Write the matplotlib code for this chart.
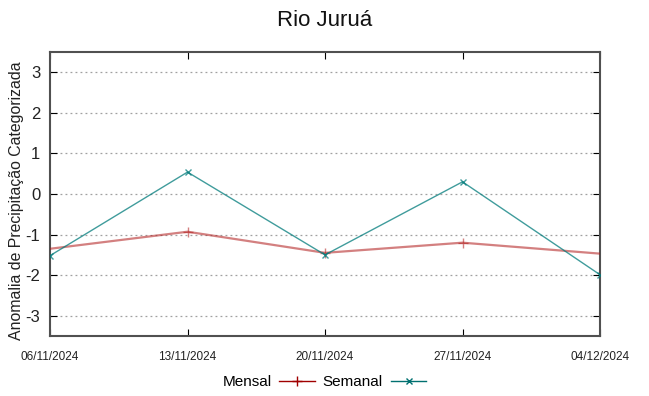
#!/usr/bin/env python3
"""Rio Juruá - anomalia de precipitação categorizada (mensal x semanal)."""

import datetime as dt
import matplotlib
matplotlib.use('Agg')
import matplotlib.pyplot as plt
from matplotlib.lines import Line2D

plt.rcParams['font.family'] = ['Liberation Sans', 'DejaVu Sans']
plt.rcParams['axes.unicode_minus'] = False

redcol  = '#b01818'
tealcol = '#007b7b'
gridcol = '#a0a0a0'
axiscol = '#505050'

# Mensal extends past the visible window on both sides (clipped)
mensal_dates = ['30/10/2024', '13/11/2024', '20/11/2024', '27/11/2024', '11/12/2024']
mensal_vals  = [-1.77, -0.93, -1.45, -1.20, -1.74]

semanal_dates = ['06/11/2024', '13/11/2024', '20/11/2024', '27/11/2024', '04/12/2024']
semanal_vals  = [-1.52, 0.54, -1.50, 0.30, -1.99]

tick_labels = ['06/11/2024', '13/11/2024', '20/11/2024', '27/11/2024', '04/12/2024']


def to_date(s):
    return dt.datetime.strptime(s, '%d/%m/%Y')


fig = plt.figure(figsize=(6.49, 3.96), dpi=100)
ax = fig.add_axes([50 / 649, 1 - 336 / 396, 550 / 649, 284 / 396])

ax.plot([to_date(d) for d in mensal_dates], mensal_vals, color=redcol, lw=1.6,
        alpha=0.55, marker='+', ms=7, mew=1.0, zorder=3)
ax.plot([to_date(d) for d in semanal_dates], semanal_vals, color=tealcol, lw=1.0,
        alpha=0.75, marker='x', ms=5, mew=1.0, zorder=4)

ticks = [to_date(d) for d in tick_labels]
ax.set_xlim(ticks[0], ticks[-1])
ax.set_xticks(ticks)
ax.set_xticklabels(tick_labels, fontsize=8.5)
ax.set_ylim(-3.5, 3.5)
ax.set_yticks([-3, -2, -1, 0, 1, 2, 3])
ax.tick_params(axis='y', labelsize=12, pad=7)
ax.tick_params(axis='x', pad=11)
ax.tick_params(direction='in', length=5, color='black', top=True, right=True,
               labelcolor='#222222')
ax.yaxis.grid(True, linestyle=(0, (1.5, 2.5)), color=gridcol, lw=0.9)
for sp in ax.spines.values():
    sp.set_color(axiscol)
    sp.set_linewidth(1.5)

fig.text(17 / 649, 1 - 201 / 396, 'Anomalia de Precipitação Categorizada', rotation=90,
         ha='center', va='center', fontsize=11.4, color='#222222')
fig.text(0.5, 1 - 20 / 396, 'Rio Juruá', ha='center', va='center', fontsize=16,
         color='#111111')

handles = [Line2D([0, 1, 2], [0, 0, 0], color='#a00000', lw=1.0, marker='+', ms=7,
                  markevery=[1]),
           Line2D([0, 1, 2], [0, 0, 0], color='#007070', lw=1.0, marker='x', ms=5,
                  markevery=[1])]
fig.legend(handles, ['Mensal', 'Semanal'], loc='center', bbox_to_anchor=(0.5, 1 - 382 / 396),
           ncol=2, frameon=False, markerfirst=False, fontsize=11, handlelength=2.35,
           columnspacing=0.5, handletextpad=0.5)

plt.savefig('out.png', dpi=100)
plt.close()
